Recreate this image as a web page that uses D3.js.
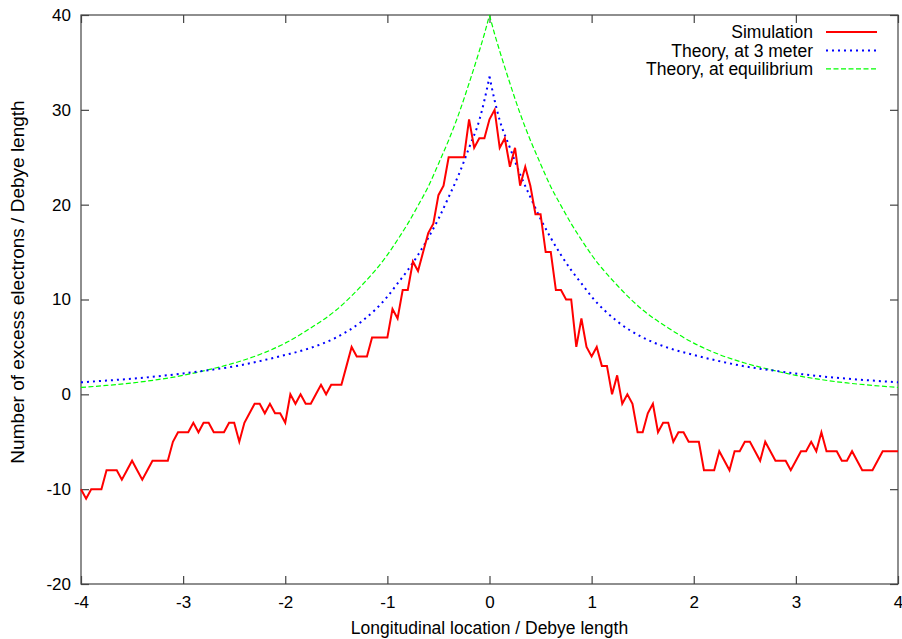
<!DOCTYPE html>
<html>
<head>
<meta charset="utf-8">
<script src="https://cdn.jsdelivr.net/npm/d3@7"></script>
<style>
  body { margin: 0; background: #fff; }
  svg { display: block; font-family: "Liberation Sans", Arial, Helvetica, sans-serif; }
</style>
</head>
<body>
<svg id="chart" width="902" height="639"></svg>
<script>
// simulation: one value every 0.05 Debye length, from -4 to 4
var simX0 = -4, simStep = 0.05;
var simValues = [
  -10, -11, -10, -10, -10, -8, -8, -8, -9, -8,
  -7, -8, -9, -8, -7, -7, -7, -7, -5, -4,
  -4, -4, -3, -4, -3, -3, -4, -4, -4, -3,
  -3, -5, -3, -2, -1, -1, -2, -1, -2, -2,
  -3, 0, -1, 0, -1, -1, 0, 1, 0, 1,
  1, 1, 3, 5, 4, 4, 4, 6, 6, 6,
  6, 9, 8, 11, 11, 14, 13, 15, 17, 18,
  21, 22, 25, 25, 25, 25, 29, 26, 27, 27,
  29, 30, 26, 27, 24, 26, 22, 24, 22, 19,
  19, 15, 15, 11, 11, 10, 10, 5, 8, 5,
  4, 5, 3, 3, 0, 2, -1, 0, -1, -4,
  -4, -2, -1, -4, -3, -3, -5, -4, -4, -5,
  -5, -5, -8, -8, -8, -6, -7, -8, -6, -6,
  -5, -5, -6, -7, -5, -6, -7, -7, -7, -8,
  -7, -6, -6, -5, -6, -4, -6, -6, -6, -7,
  -7, -6, -7, -8, -8, -8, -7, -6, -6, -6,
  -6
];

// theory curves, read at |x| (symmetric about 0)
var theoryX = [0, 0.05, 0.1, 0.2, 0.3, 0.4, 0.5, 0.6, 0.7, 0.8, 0.9, 1.0,
  1.25, 1.5, 1.75, 2.0, 2.25, 2.5, 2.75, 3.0, 3.25, 3.5, 3.75, 4.0];
var theory3m = [33.5, 31.0, 28.9, 26.0, 23.2, 20.8, 18.5, 16.5, 14.7, 13.1, 11.7, 10.3,
  7.7, 6.0, 4.9, 4.15, 3.5, 2.95, 2.55, 2.2, 1.9, 1.65, 1.45, 1.27];
var theoryEq = [40, 38.0, 36.2, 32.8, 29.6, 26.8, 24.3, 21.9, 19.9, 18.0, 16.3, 14.7,
  11.5, 8.9, 7.0, 5.4, 4.2, 3.3, 2.6, 2.0, 1.55, 1.2, 0.94, 0.73];

var xTicks = [-4, -3, -2, -1, 0, 1, 2, 3, 4];
var yTicks = [-20, -10, 0, 10, 20, 30, 40];

var legendLabels = ["Simulation", "Theory, at 3 meter", "Theory, at equilibrium"];

var svg = d3.select("#chart");
var margin = {left: 81, right: 4, top: 15, bottom: 55};
var width = 902 - margin.left - margin.right,
    height = 639 - margin.top - margin.bottom;

var x = d3.scaleLinear().domain([-4, 4]).range([0, width]);
var y = d3.scaleLinear().domain([-20, 40]).range([height, 0]);

var g = svg.append("g").attr("transform", "translate(" + margin.left + "," + margin.top + ")");

var fmt = function(d) { return String(d); };   // plain hyphen minus

// axes, ticks pointing inwards, mirrored on top/right
var axisB = g.append("g").attr("transform", "translate(0," + height + ")")
  .call(d3.axisBottom(x).tickValues(xTicks).tickSize(-8).tickPadding(12).tickFormat(fmt));
var axisT = g.append("g")
  .call(d3.axisTop(x).tickValues(xTicks).tickSize(-8).tickFormat(""));
var axisL = g.append("g")
  .call(d3.axisLeft(y).tickValues(yTicks).tickSize(-8).tickPadding(10).tickFormat(fmt));
var axisR = g.append("g").attr("transform", "translate(" + width + ",0)")
  .call(d3.axisRight(y).tickValues(yTicks).tickSize(-8).tickFormat(""));

[axisB, axisT, axisL, axisR].forEach(function(a) {
  a.select(".domain").remove();
  a.selectAll("line").attr("stroke", "#444").attr("stroke-width", 1.2);
  a.selectAll("text").attr("fill", "#000").style("font-size", "17px")
    .style("font-family", "'Liberation Sans', Arial, sans-serif");
});

g.append("rect")
  .attr("width", width).attr("height", height)
  .attr("fill", "none").attr("stroke", "#444").attr("stroke-width", 1.2);

// theory lines: draw each half separately so the cusp at 0 stays sharp
var line = d3.line()
  .x(function(d) { return x(d[0]); })
  .y(function(d) { return y(d[1]); })
  .curve(d3.curveMonotoneX);

function halves(vals) {
  var rightHalf = theoryX.map(function(t, i) { return [t, vals[i]]; });
  var leftHalf = theoryX.map(function(t, i) { return [-t, vals[i]]; }).reverse();
  return [leftHalf, rightHalf];
}

var plot = g.append("g");

halves(theoryEq).forEach(function(h) {
  plot.append("path").attr("d", line(h))
    .attr("fill", "none").attr("stroke", "#00ff00").attr("stroke-width", 1.2)
    .attr("stroke-dasharray", "5,2.5");
});

halves(theory3m).forEach(function(h) {
  plot.append("path").attr("d", line(h))
    .attr("fill", "none").attr("stroke", "#0000ff").attr("stroke-width", 2)
    .attr("stroke-dasharray", "2,4");
});

var simLine = d3.line()
  .x(function(d, i) { return x(simX0 + i * simStep); })
  .y(function(d) { return y(d); });

plot.append("path").attr("d", simLine(simValues))
  .attr("fill", "none").attr("stroke", "#ff0000").attr("stroke-width", 2)
  .attr("stroke-linejoin", "miter");

// legend
var legendStyles = [
  {stroke: "#ff0000", width: 2, dash: null},
  {stroke: "#0000ff", width: 2, dash: "2,4"},
  {stroke: "#00ff00", width: 1.2, dash: "5,2.5"}
];
var legend = svg.append("g").attr("transform", "translate(0,32)");
legendLabels.forEach(function(lbl, i) {
  var row = legend.append("g").attr("transform", "translate(0," + (i * 18.4) + ")");
  row.append("text").attr("x", 813).attr("y", 0).attr("dy", "0.35em")
    .attr("text-anchor", "end").style("font-size", "17.5px").text(lbl);
  row.append("line").attr("x1", 826).attr("x2", 877).attr("y1", 0).attr("y2", 0)
    .attr("stroke", legendStyles[i].stroke).attr("stroke-width", legendStyles[i].width)
    .attr("stroke-dasharray", legendStyles[i].dash);
});

// axis titles
svg.append("text").attr("x", margin.left + x(0)).attr("y", 634)
  .attr("text-anchor", "middle").style("font-size", "17.5px")
  .text("Longitudinal location / Debye length");
svg.append("text").attr("transform", "translate(24,282) rotate(-90)")
  .attr("text-anchor", "middle").style("font-size", "19px")
  .text("Number of excess electrons / Debye length");
</script>
</body>
</html>
